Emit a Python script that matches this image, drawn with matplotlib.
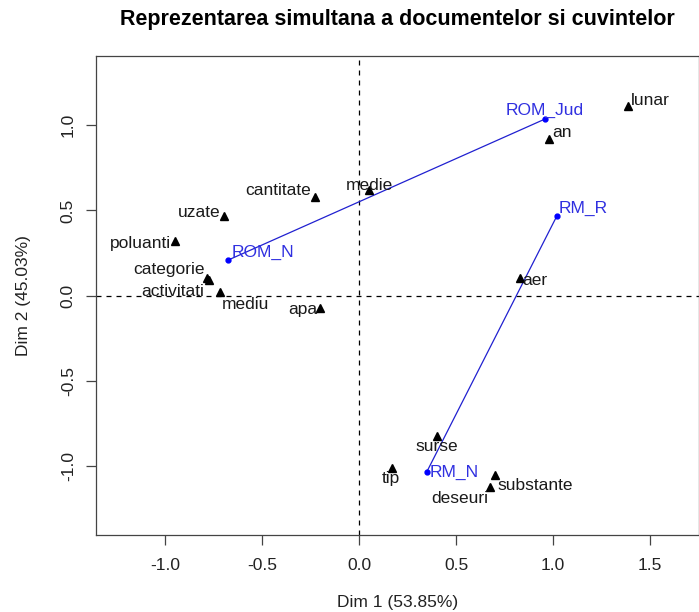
import matplotlib
matplotlib.use("Agg")
import matplotlib.pyplot as plt

plt.rcParams['font.family'] = ['Liberation Sans', 'DejaVu Sans']

# Column (word) coordinates
words = ["lunar", "an", "medie", "cantitate", "uzate", "poluanti", "categorie",
         "activitati", "mediu", "apa", "aer", "surse", "tip", "substante", "deseuri"]
word_x = [1.386, 0.980, 0.053, -0.230, -0.695, -0.948, -0.783,
          -0.775, -0.720, -0.200, 0.828, 0.400, 0.172, 0.700, 0.674]
word_y = [1.113, 0.919, 0.620, 0.578, 0.467, 0.320, 0.103,
          0.092, 0.020, -0.072, 0.104, -0.820, -1.010, -1.050, -1.120]

# Row (document) coordinates
docs = ["ROM_Jud", "ROM_N", "RM_R", "RM_N"]
doc_x = [0.958, -0.674, 1.020, 0.348]
doc_y = [1.036, 0.210, 0.468, -1.035]
# pairs joined by lines
doc_links = [("ROM_N", "ROM_Jud"), ("RM_N", "RM_R")]

title = "Reprezentarea simultana a documentelor si cuvintelor"
xlabel = "Dim 1 (53.85%)"
ylabel = "Dim 2 (45.03%)"
xticks = [-1.0, -0.5, 0.0, 0.5, 1.0, 1.5]
yticks = [-1.0, -0.5, 0.0, 0.5, 1.0]

# label placement (pixel offsets, alignment) -- styling only
word_lab = {
    "lunar": (3, 5, "left"), "an": (3, 7, "left"), "medie": (0, 5, "center"),
    "cantitate": (-4, 7, "right"), "uzate": (-4, 4, "right"),
    "poluanti": (-4, -2, "right"), "categorie": (-3, 9, "right"),
    "activitati": (-5, -11, "right"), "mediu": (2, -12, "left"),
    "apa": (-3, -1, "right"), "aer": (3, -2, "left"), "surse": (0, -11, "center"),
    "tip": (-2, -11, "center"), "substante": (3, -11, "left"),
    "deseuri": (-2, -12, "right"),
}
doc_lab = {
    "ROM_Jud": (0, 9, "center"), "ROM_N": (3, 8, "left"),
    "RM_R": (2, 8, "left"), "RM_N": (3, 0, "left"),
}

FS = 12.5
W, H = 699, 612
fig = plt.figure(figsize=(W / 100, H / 100), dpi=100)
left, right, top, bottom = 96, 699, 56, 535
ax = fig.add_axes([left / W, 1 - bottom / H, (right - left) / W, (bottom - top) / H])

ax.set_xlim(-1.357, 1.753)
ax.set_ylim(-1.403, 1.406)

ax.axhline(0, color="black", lw=0.9, ls=(0, (4, 4)), zorder=1)
ax.axvline(0, color="black", lw=0.9, ls=(0, (4, 4)), zorder=1)

dpos = {n: (x, y) for n, x, y in zip(docs, doc_x, doc_y)}
for a, b in doc_links:
    ax.plot([dpos[a][0], dpos[b][0]], [dpos[a][1], dpos[b][1]], color="#2020d0", lw=0.9, zorder=2)

ax.plot(word_x, word_y, ls="none", marker="^", color="black", ms=6, zorder=3)
ax.plot(doc_x, doc_y, ls="none", marker="o", color="blue", ms=3.5, zorder=3)

for n, x, y in zip(words, word_x, word_y):
    dx, dy, ha = word_lab[n]
    ax.annotate(n, (x, y), xytext=(dx, dy), textcoords="offset pixels",
                ha=ha, va="center", fontsize=FS, color="#1a1a1a", zorder=4)
for n, x, y in zip(docs, doc_x, doc_y):
    dx, dy, ha = doc_lab[n]
    ax.annotate(n, (x, y), xytext=(dx, dy), textcoords="offset pixels",
                ha=ha, va="center", fontsize=FS, color="#3030e0", zorder=4)

ax.set_xticks(xticks)
ax.set_yticks(yticks)
ax.set_xticklabels([f"{t:.1f}" for t in xticks])
ax.set_yticklabels([f"{t:.1f}" for t in yticks], rotation=90, va="center")
ax.tick_params(axis="both", direction="out", length=7, width=0.9, color="#444444",
               labelsize=FS, labelcolor="#222222")
ax.tick_params(axis="x", pad=9.5)
ax.tick_params(axis="y", pad=7.5)

for s in ["left", "bottom", "top", "right"]:
    ax.spines[s].set_color("#444444")
    ax.spines[s].set_linewidth(0.9)

fig.text((left + right) / 2 / W, 1 - 603 / H, xlabel, ha="center", va="center",
         fontsize=FS, color="#222222")
fig.text(24 / W, 1 - 296 / H, ylabel, ha="center", va="center", rotation=90,
         fontsize=FS, color="#222222")
fig.text((left + right) / 2 / W, 1 - 19 / H, title, ha="center", va="center",
         fontsize=15.5, fontweight="bold", color="black")

fig.savefig("out.png", dpi=100)
